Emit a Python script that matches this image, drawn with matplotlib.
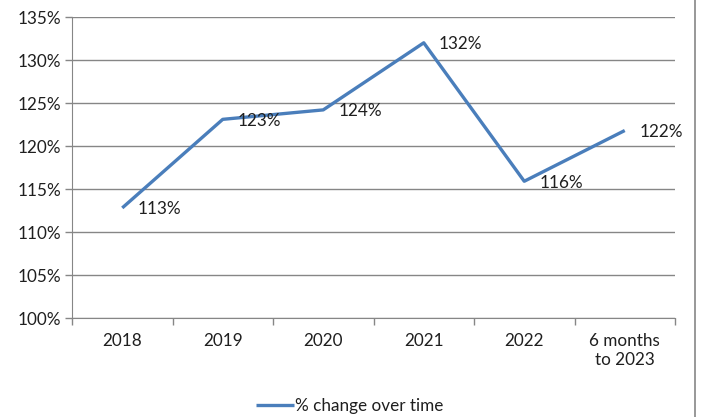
import matplotlib
matplotlib.use('Agg')
import matplotlib.pyplot as plt
from matplotlib.lines import Line2D

categories = ['2018', '2019', '2020', '2021', '2022', '6 months\nto 2023']
values = [112.8, 123.1, 124.2, 132.0, 115.9, 121.8]
labels = ['113%', '123%', '124%', '132%', '116%', '122%']
y_ticks = [100, 105, 110, 115, 120, 125, 130, 135]

line_color = '#4A7EBB'
grid_color = '#868686'
text_color = '#1f1f1f'
fs = 12.3

plt.rcParams['font.family'] = ['Lato', 'DejaVu Sans']

fig = plt.figure(figsize=(7.01, 4.17), dpi=100)
ax = fig.add_axes([72 / 701, 99 / 417, 603 / 701, 301 / 417])

x = list(range(len(categories)))
ax.plot(x, values, color=line_color, linewidth=2.4, solid_capstyle='butt',
        label='% change over time', zorder=3)

for xi, v, lab in zip(x, values, labels):
    ax.annotate(lab, (xi, v), xytext=(11, -1), textcoords='offset points',
                ha='left', va='center', fontsize=fs, color=text_color)

ax.set_xlim(-0.5, len(categories) - 0.5)
ax.set_ylim(100, 135)
ax.set_yticks(y_ticks)
ax.set_yticklabels([f'{t}%' for t in y_ticks])
ax.set_xticks(x)
ax.set_xticklabels(categories)
ax.set_xticks([i - 0.5 for i in range(len(categories) + 1)], minor=True)

ax.tick_params(axis='x', which='major', length=0, pad=11, labelsize=fs,
               labelcolor=text_color)
ax.tick_params(axis='x', which='minor', length=5, color=grid_color, width=1)
ax.tick_params(axis='y', length=5, color=grid_color, width=1, pad=3,
               labelsize=fs, labelcolor=text_color)

ax.grid(axis='y', color=grid_color, linewidth=1)
ax.set_axisbelow(True)
for side in ['top', 'right']:
    ax.spines[side].set_visible(False)
ax.spines['left'].set_color(grid_color)
ax.spines['bottom'].set_color(grid_color)

leg = fig.legend(loc='center', bbox_to_anchor=(350 / 701, 1 - 406 / 417),
                 frameon=False, fontsize=fs, handlelength=2.2,
                 handletextpad=0.1)
for t in leg.get_texts():
    t.set_color(text_color)

fig.add_artist(Line2D([695 / 701, 695 / 701], [0, 1], color=grid_color,
                      linewidth=1.2, transform=fig.transFigure))

fig.savefig('out.png', dpi=100)
